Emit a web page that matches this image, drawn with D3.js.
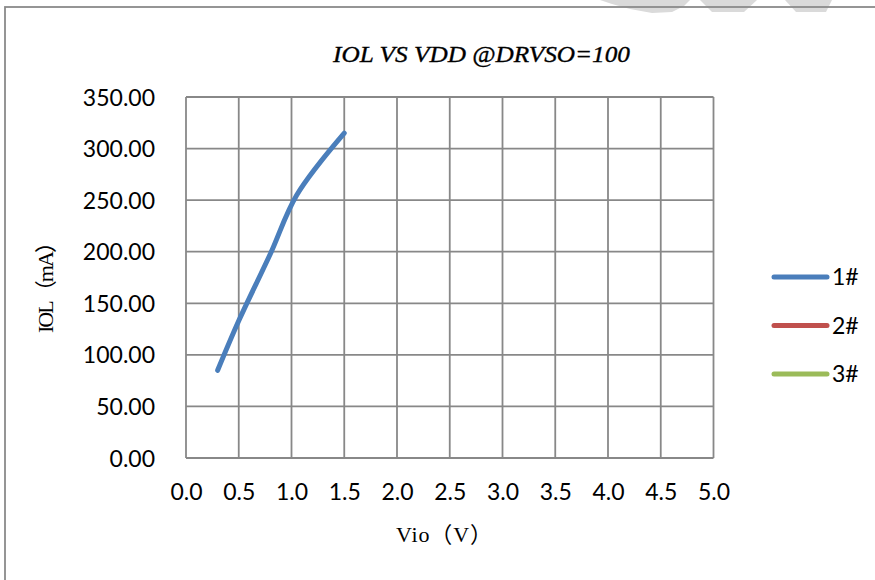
<!DOCTYPE html>
<html>
<head>
<meta charset="utf-8">
<script src="https://cdn.jsdelivr.net/npm/d3@7"></script>
<style>
  html, body { margin: 0; padding: 0; background: #fff; }
  svg { display: block; }
</style>
</head>
<body>
<div id="chart"></div>
<script>
// ---- data ----
const titleText = "IOL VS VDD @DRVSO=100";
const xAxisTitle = "Vio（V）";
const yAxisTitle = "IOL（mA）";
const seriesNames = ["1#", "2#", "3#"];
const seriesColors = ["#4A7EBB", "#C0504D", "#9BBB59"];
const s1X = [0.3, 0.5, 0.8, 1.05, 1.5];
const s1Y = [85, 133, 198, 255, 315];
const s2X = [];
const s2Y = [];
const s3X = [];
const s3Y = [];
const xTicks = [0, 0.5, 1.0, 1.5, 2.0, 2.5, 3.0, 3.5, 4.0, 4.5, 5.0];
const yTicks = [0, 50, 100, 150, 200, 250, 300, 350];

// ---- layout ----
const W = 875, H = 580;
const plot = { left: 186, right: 713.5, top: 97, bottom: 458 };
const gridColor = "#888888";
const tickFont = "Lato, 'Open Sans', sans-serif";
const serifFont = "'Liberation Serif', 'DejaVu Serif', 'Noto Sans CJK SC', serif";

const svg = d3.select("#chart").append("svg")
  .attr("width", W).attr("height", H);

svg.append("rect").attr("width", W).attr("height", H).attr("fill", "#fff");

// faint watermark fragments at the top edge
const wm = [
  [[600,0],[690,0],[684,6],[672,12],[652,13],[630,9],[612,4]],
  [[700,0],[757,0],[744,12],[712,12]],
  [[785,0],[832,0],[826,12],[796,12]]
];
svg.append("g").selectAll("path").data(wm).join("path")
  .attr("d", d => d3.line()(d) + "Z")
  .attr("fill", "#dadada");

// chart border (extends past right/bottom edges)
svg.append("rect")
  .attr("x", 5).attr("y", 7)
  .attr("width", 900).attr("height", 600)
  .attr("fill", "none").attr("stroke", "#8a8a8a").attr("stroke-width", 1.8);

const x = d3.scaleLinear().domain([0, 5]).range([plot.left, plot.right]);
const y = d3.scaleLinear().domain([0, 350]).range([plot.bottom, plot.top]);

// gridlines
const g = svg.append("g");
g.selectAll("line.v").data(xTicks).join("line")
  .attr("class", "v")
  .attr("x1", d => x(d)).attr("x2", d => x(d))
  .attr("y1", plot.top).attr("y2", plot.bottom)
  .attr("stroke", gridColor).attr("stroke-width", 1.8);
g.selectAll("line.h").data(yTicks).join("line")
  .attr("class", "h")
  .attr("x1", plot.left).attr("x2", plot.right)
  .attr("y1", d => y(d)).attr("y2", d => y(d))
  .attr("stroke", gridColor).attr("stroke-width", 1.8);

// axes via d3 axis generators (labels only)
const yAxis = svg.append("g")
  .attr("transform", `translate(${plot.left - 31},0)`)
  .call(d3.axisLeft(y).tickValues(yTicks).tickSize(0).tickPadding(0).tickFormat(d3.format(".2f")));
yAxis.select(".domain").remove();
yAxis.selectAll("text")
  .attr("font-family", tickFont).attr("font-size", 23).attr("fill", "#000")
  .attr("dy", "0.35em");

const xAxis = svg.append("g")
  .attr("transform", `translate(0,${plot.bottom})`)
  .call(d3.axisBottom(x).tickValues(xTicks).tickSize(0).tickPadding(0).tickFormat(d3.format(".1f")));
xAxis.select(".domain").remove();
xAxis.selectAll("text")
  .attr("font-family", tickFont).attr("font-size", 23).attr("fill", "#000")
  .attr("y", 42).attr("dy", 0);

// series
const lineGen = d3.line()
  .x(d => x(d[0])).y(d => y(d[1]))
  .curve(d3.curveCatmullRom.alpha(0.5));
const seriesData = [
  d3.zip(s1X, s1Y),
  d3.zip(s2X, s2Y),
  d3.zip(s3X, s3Y)
];
svg.append("g").selectAll("path").data(seriesData).join("path")
  .attr("d", d => d.length ? lineGen(d) : null)
  .attr("fill", "none")
  .attr("stroke", (d, i) => seriesColors[i])
  .attr("stroke-width", 5)
  .attr("stroke-linecap", "round")
  .attr("stroke-linejoin", "round");

// title
svg.append("text")
  .attr("x", 333).attr("y", 62)
  .attr("textLength", 297).attr("lengthAdjust", "spacingAndGlyphs")
  .attr("font-family", serifFont)
  .attr("font-style", "italic")
  .attr("font-size", 24)
  .attr("fill", "#000").attr("stroke", "#000").attr("stroke-width", 0.35)
  .text(titleText);

// axis titles
svg.append("text")
  .attr("transform", "translate(53,333) rotate(-90)")
  .attr("textLength", 102).attr("lengthAdjust", "spacing")
  .attr("font-family", serifFont)
  .attr("font-size", 22)
  .attr("fill", "#000")
  .text(yAxisTitle);

svg.append("text")
  .attr("x", 396).attr("y", 542)
  .attr("textLength", 96).attr("lengthAdjust", "spacing")
  .attr("font-family", serifFont)
  .attr("font-size", 22)
  .attr("fill", "#000")
  .text(xAxisTitle);

// legend
const legendY = d3.scalePoint().domain(seriesNames).range([277, 374]);
const lg = svg.append("g").selectAll("g").data(seriesNames).join("g")
  .attr("transform", d => `translate(0,${legendY(d)})`);
lg.append("line")
  .attr("x1", 774).attr("x2", 827).attr("y1", 0).attr("y2", 0)
  .attr("stroke", (d, i) => seriesColors[i])
  .attr("stroke-width", 5).attr("stroke-linecap", "round");
lg.append("text")
  .attr("x", 832).attr("y", 0).attr("dy", "0.36em")
  .attr("font-family", tickFont).attr("font-size", 23).attr("fill", "#000")
  .text(d => d);
</script>
</body>
</html>
